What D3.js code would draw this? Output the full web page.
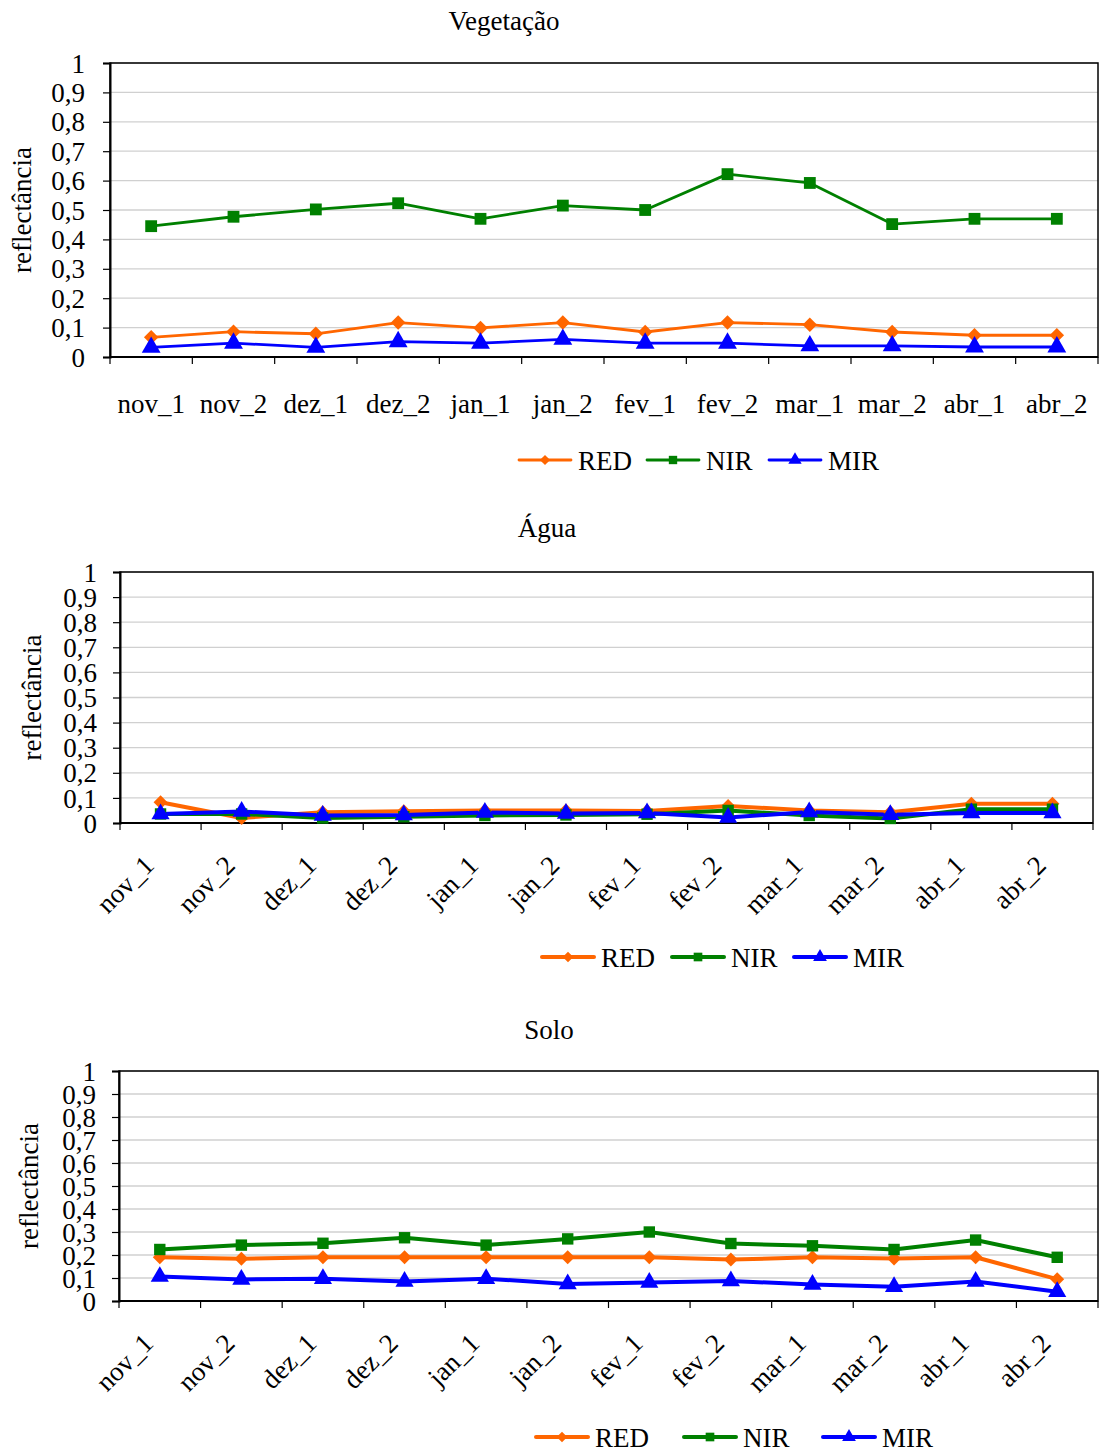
<!DOCTYPE html>
<html>
<head>
<meta charset="utf-8">
<script src="https://cdn.jsdelivr.net/npm/d3@7"></script>
<style>
  body { margin: 0; background: #fff; }
  text { font-family: "Liberation Serif", "Times New Roman", serif; fill: #000; }
</style>
</head>
<body>
<div id="chart-area"></div>
<script>
const categories = ["nov_1", "nov_2", "dez_1", "dez_2", "jan_1", "jan_2",
                    "fev_1", "fev_2", "mar_1", "mar_2", "abr_1", "abr_2"];
const yTicks = [0, 0.1, 0.2, 0.3, 0.4, 0.5, 0.6, 0.7, 0.8, 0.9, 1];
const seriesNames = ["RED", "NIR", "MIR"];
const seriesColors = ["#ff6600", "#008000", "#0000ff"];

// Vegetação
const vegRED = [0.067, 0.086, 0.079, 0.117, 0.099, 0.117, 0.085, 0.117, 0.110, 0.085, 0.074, 0.074];
const vegNIR = [0.445, 0.477, 0.502, 0.523, 0.470, 0.515, 0.500, 0.622, 0.592, 0.452, 0.470, 0.470];
const vegMIR = [0.033, 0.047, 0.033, 0.052, 0.047, 0.060, 0.047, 0.047, 0.038, 0.038, 0.034, 0.034];

// Água
const aguaRED = [0.083, 0.020, 0.043, 0.047, 0.050, 0.050, 0.048, 0.068, 0.050, 0.043, 0.077, 0.077];
const aguaNIR = [0.036, 0.036, 0.020, 0.025, 0.030, 0.032, 0.035, 0.050, 0.030, 0.018, 0.055, 0.055];
const aguaMIR = [0.036, 0.046, 0.030, 0.032, 0.042, 0.038, 0.040, 0.022, 0.044, 0.033, 0.040, 0.040];

// Solo
const soloRED = [0.190, 0.184, 0.190, 0.190, 0.190, 0.190, 0.190, 0.180, 0.190, 0.185, 0.190, 0.095];
const soloNIR = [0.224, 0.243, 0.251, 0.275, 0.243, 0.270, 0.300, 0.250, 0.240, 0.224, 0.265, 0.190];
const soloMIR = [0.106, 0.094, 0.097, 0.085, 0.097, 0.074, 0.080, 0.087, 0.072, 0.062, 0.085, 0.040];

const svg = d3.select("#chart-area")
    .append("svg")
    .attr("width", 1099)
    .attr("height", 1453);

const fmt = d => String(d).replace(".", ",");

function drawChart(c) {
    const width = c.right - c.left;
    const height = c.bottom - c.top;

    const g = svg.append("g")
        .attr("transform", `translate(${c.left}, ${c.top})`);

    const x = d3.scaleBand()
        .domain(categories)
        .range([0, width]);

    const y = d3.scaleLinear()
        .domain([0, 1])
        .range([height, 0]);

    // gridlines
    g.selectAll(".grid")
        .data(yTicks.slice(1))
        .enter()
        .append("line")
        .attr("x1", 0)
        .attr("x2", width)
        .attr("y1", d => y(d))
        .attr("y2", d => y(d))
        .attr("stroke", "#d0d0d0")
        .attr("stroke-width", 1.3);

    // box
    g.append("rect")
        .attr("width", width)
        .attr("height", height)
        .attr("fill", "none")
        .attr("stroke", "#000")
        .attr("stroke-width", 1.5);

    // y axis
    const yAxis = d3.axisLeft(y)
        .tickValues(yTicks)
        .tickSize(7)
        .tickPadding(c.yPad)
        .tickFormat(fmt);

    const ya = g.append("g").call(yAxis);
    ya.select(".domain").attr("stroke-width", 2);
    ya.selectAll("line").attr("stroke-width", 1.2);
    ya.selectAll("text")
        .attr("font-size", "27px")
        .attr("font-family", "Liberation Serif")
        .attr("dy", "0.34em");

    // x axis ticks at band edges
    const edges = categories.map(d => x(d)).concat([width]);
    g.selectAll(".xtick")
        .data(edges)
        .enter()
        .append("line")
        .attr("x1", d => d)
        .attr("x2", d => d)
        .attr("y1", height)
        .attr("y2", height + 7)
        .attr("stroke", "#000")
        .attr("stroke-width", 1.2);

    g.append("line")
        .attr("x1", 0).attr("x2", width)
        .attr("y1", height).attr("y2", height)
        .attr("stroke", "#000")
        .attr("stroke-width", 2);

    // x labels
    const xl = g.selectAll(".xlab")
        .data(categories)
        .enter()
        .append("text")
        .attr("font-size", "27px")
        .text(d => d);

    if (c.rotate) {
        xl.attr("text-anchor", "end")
          .attr("transform", d => `translate(${x(d) + x.bandwidth() / 2 - 5}, ${height + 44}) rotate(-45)`);
    } else {
        xl.attr("text-anchor", "middle")
          .attr("x", d => x(d) + x.bandwidth() / 2)
          .attr("y", height + 56);
    }

    // title
    svg.append("text")
        .attr("x", c.titleX)
        .attr("y", c.titleY)
        .attr("text-anchor", "middle")
        .attr("font-size", "27px")
        .text(c.title);

    // y label
    svg.append("text")
        .attr("transform", `translate(${c.yLabelX}, ${(c.top + c.bottom) / 2}) rotate(-90)`)
        .attr("text-anchor", "middle")
        .attr("font-size", "27px")
        .text("reflectância");

    const symbols = [
        d3.symbol().type(d3.symbolSquare).size(c.mSize * 0.75),
        d3.symbol().type(d3.symbolSquare).size(c.mSize * 1.0),
        d3.symbol().type(d3.symbolTriangle).size(c.mSize * 1.1)
    ];
    const rot = [45, 0, 0];

    const line = d3.line()
        .x((d, i) => x(categories[i]) + x.bandwidth() / 2)
        .y(d => y(d));

    c.series.forEach((vals, s) => {
        g.append("path")
            .datum(vals)
            .attr("d", line)
            .attr("fill", "none")
            .attr("stroke", seriesColors[s])
            .attr("stroke-width", c.lineW)
            .attr("stroke-linejoin", "round");
    });

    c.series.forEach((vals, s) => {
        g.selectAll(".m" + s)
            .data(vals)
            .enter()
            .append("path")
            .attr("d", symbols[s])
            .attr("fill", seriesColors[s])
            .attr("transform", (d, i) =>
                `translate(${x(categories[i]) + x.bandwidth() / 2}, ${y(d)}) rotate(${rot[s]})`);
    });

    // legend
    const legSym = [
        d3.symbol().type(d3.symbolSquare).size(c.legSize * 0.75),
        d3.symbol().type(d3.symbolSquare).size(c.legSize),
        d3.symbol().type(d3.symbolTriangle).size(c.legSize * 1.1)
    ];
    seriesNames.forEach((name, s) => {
        const lx = c.legendX[s];
        const lg = svg.append("g")
            .attr("transform", `translate(${lx}, ${c.legendY})`);
        lg.append("line")
            .attr("x1", 0).attr("x2", 52)
            .attr("y1", 0).attr("y2", 0)
            .attr("stroke", seriesColors[s])
            .attr("stroke-width", c.legLineW)
            .attr("stroke-linecap", "round");
        lg.append("path")
            .attr("d", legSym[s])
            .attr("fill", seriesColors[s])
            .attr("transform", `translate(26, 0) rotate(${rot[s]})`);
        lg.append("text")
            .attr("x", 59)
            .attr("y", 10)
            .attr("font-size", "27px")
            .text(name);
    });
}

drawChart({
    title: "Vegetação", titleX: 504, titleY: 30,
    left: 110, right: 1098, top: 63, bottom: 357,
    yPad: 18, yLabelX: 31, rotate: false,
    series: [vegRED, vegNIR, vegMIR],
    lineW: 2.8, mSize: 140, legSize: 70, legLineW: 2.8,
    legendX: [519, 647, 769], legendY: 460
});

drawChart({
    title: "Água", titleX: 547, titleY: 537,
    left: 120, right: 1093, top: 572, bottom: 823,
    yPad: 16, yLabelX: 41, rotate: true,
    series: [aguaRED, aguaNIR, aguaMIR],
    lineW: 4, mSize: 130, legSize: 75, legLineW: 4,
    legendX: [542, 672, 794], legendY: 957
});

drawChart({
    title: "Solo", titleX: 549, titleY: 1039,
    left: 119, right: 1098, top: 1071, bottom: 1301,
    yPad: 16, yLabelX: 38, rotate: true,
    series: [soloRED, soloNIR, soloMIR],
    lineW: 4, mSize: 130, legSize: 75, legLineW: 4,
    legendX: [536, 684, 823], legendY: 1437
});
</script>
</body>
</html>
